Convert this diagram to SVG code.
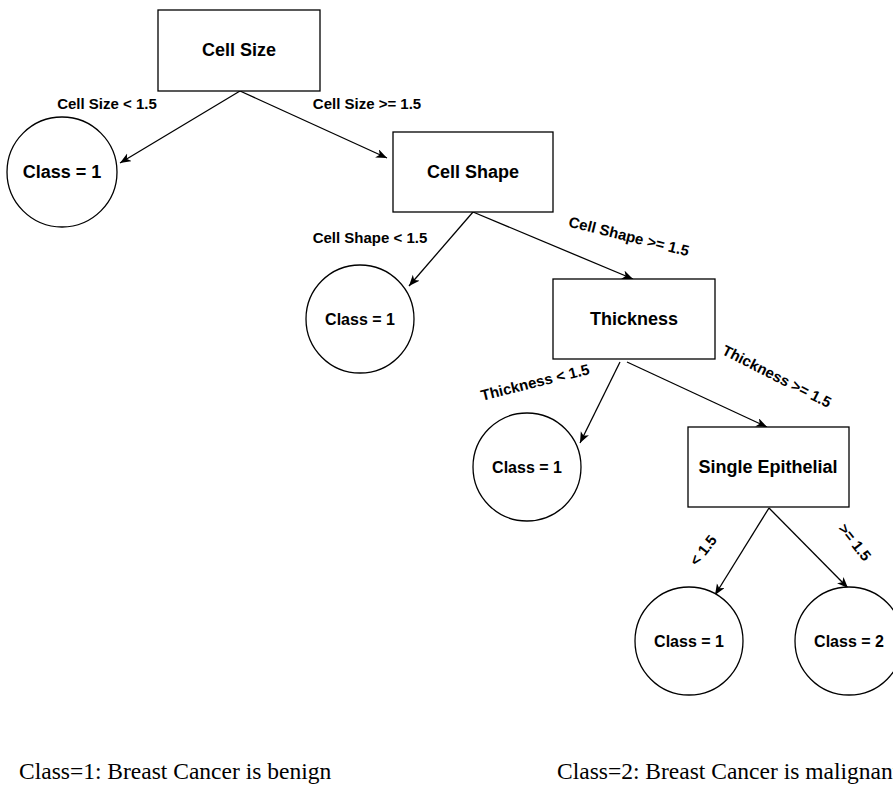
<svg xmlns="http://www.w3.org/2000/svg" width="893" height="787" viewBox="0 0 893 787">
  <style>
    .box { fill: #ffffff; stroke: #000000; stroke-width: 1.3; }
    .leaf { fill: #ffffff; stroke: #000000; stroke-width: 1.3; }
    .title { font-family: "Liberation Sans", Arial, sans-serif; font-weight: bold; font-size: 18px; fill: #000000; text-anchor: middle; dominant-baseline: central; }
    .small { font-size: 16px; }
    .edge { stroke: #000000; stroke-width: 1.3; fill: none; marker-end: url(#arrow); }
    .elabel { font-family: "Liberation Sans", Arial, sans-serif; font-weight: bold; font-size: 15px; fill: #000000; text-anchor: middle; dominant-baseline: central; }
    .legend { font-family: "Liberation Serif", "Times New Roman", serif; font-size: 23.5px; fill: #000000; }
  </style>
  <defs>
    <marker id="arrow" markerUnits="userSpaceOnUse" markerWidth="12" markerHeight="10" refX="11" refY="4.5" orient="auto">
      <path d="M0,0 L11,4.5 L0,9 L3,4.5 Z" fill="#000000"/>
    </marker>
  </defs>
  <rect width="893" height="787" fill="#ffffff"/>

  <g id="connectors">
    <line class="edge" x1="240" y1="91" x2="120" y2="163"/>
    <line class="edge" x1="240" y1="91" x2="387" y2="158"/>
    <line class="edge" x1="473" y1="212" x2="409" y2="286"/>
    <line class="edge" x1="473" y1="212" x2="633" y2="279"/>
    <line class="edge" x1="620" y1="362" x2="580" y2="443"/>
    <line class="edge" x1="627" y1="362" x2="767" y2="427"/>
    <line class="edge" x1="769" y1="508" x2="715" y2="595"/>
    <line class="edge" x1="769" y1="508" x2="848" y2="588"/>

    <text class="elabel" x="107" y="103">Cell Size &lt; 1.5</text>
    <text class="elabel" x="367" y="103">Cell Size &gt;= 1.5</text>
    <text class="elabel" x="370" y="237">Cell Shape &lt; 1.5</text>
    <text class="elabel" transform="translate(629,236) rotate(14)">Cell Shape &gt;= 1.5</text>
    <text class="elabel" transform="translate(535,382) rotate(-14)">Thickness &lt; 1.5</text>
    <text class="elabel" transform="translate(777,376) rotate(27)">Thickness &gt;= 1.5</text>
    <text class="elabel" transform="translate(703,550) rotate(-52)">&lt; 1.5</text>
    <text class="elabel" transform="translate(855,542) rotate(52)">&gt;= 1.5</text>
  </g>

  <g id="cell-size">
    <rect class="box" x="158" y="10" width="162" height="81"/>
    <text class="title" x="239" y="50">Cell Size</text>
  </g>
  <g id="leaf-a">
    <circle class="leaf" cx="62" cy="172" r="55"/>
    <text class="title" x="62" y="172">Class = 1</text>
  </g>
  <g id="cell-shape">
    <rect class="box" x="393" y="132" width="160" height="80"/>
    <text class="title" x="473" y="172">Cell Shape</text>
  </g>
  <g id="leaf-b">
    <circle class="leaf" cx="360" cy="319" r="54"/>
    <text class="title small" x="360" y="319">Class = 1</text>
  </g>
  <g id="thickness">
    <rect class="box" x="553" y="279" width="162" height="80"/>
    <text class="title" x="634" y="319">Thickness</text>
  </g>
  <g id="leaf-c">
    <circle class="leaf" cx="527" cy="467" r="54"/>
    <text class="title small" x="527" y="467">Class = 1</text>
  </g>
  <g id="single-epithelial">
    <rect class="box" x="688" y="427" width="161" height="80"/>
    <text class="title" x="768" y="467">Single Epithelial</text>
  </g>
  <g id="leaf-d">
    <circle class="leaf" cx="689" cy="641" r="54"/>
    <text class="title small" x="689" y="641">Class = 1</text>
  </g>
  <g id="leaf-e">
    <circle class="leaf" cx="849" cy="641" r="54"/>
    <text class="title small" x="849" y="641">Class = 2</text>
  </g>

  <g id="legend">
    <text class="legend" x="19" y="779">Class=1: Breast Cancer is benign</text>
    <text class="legend" x="557" y="779">Class=2: Breast Cancer is malignant</text>
  </g>
</svg>
